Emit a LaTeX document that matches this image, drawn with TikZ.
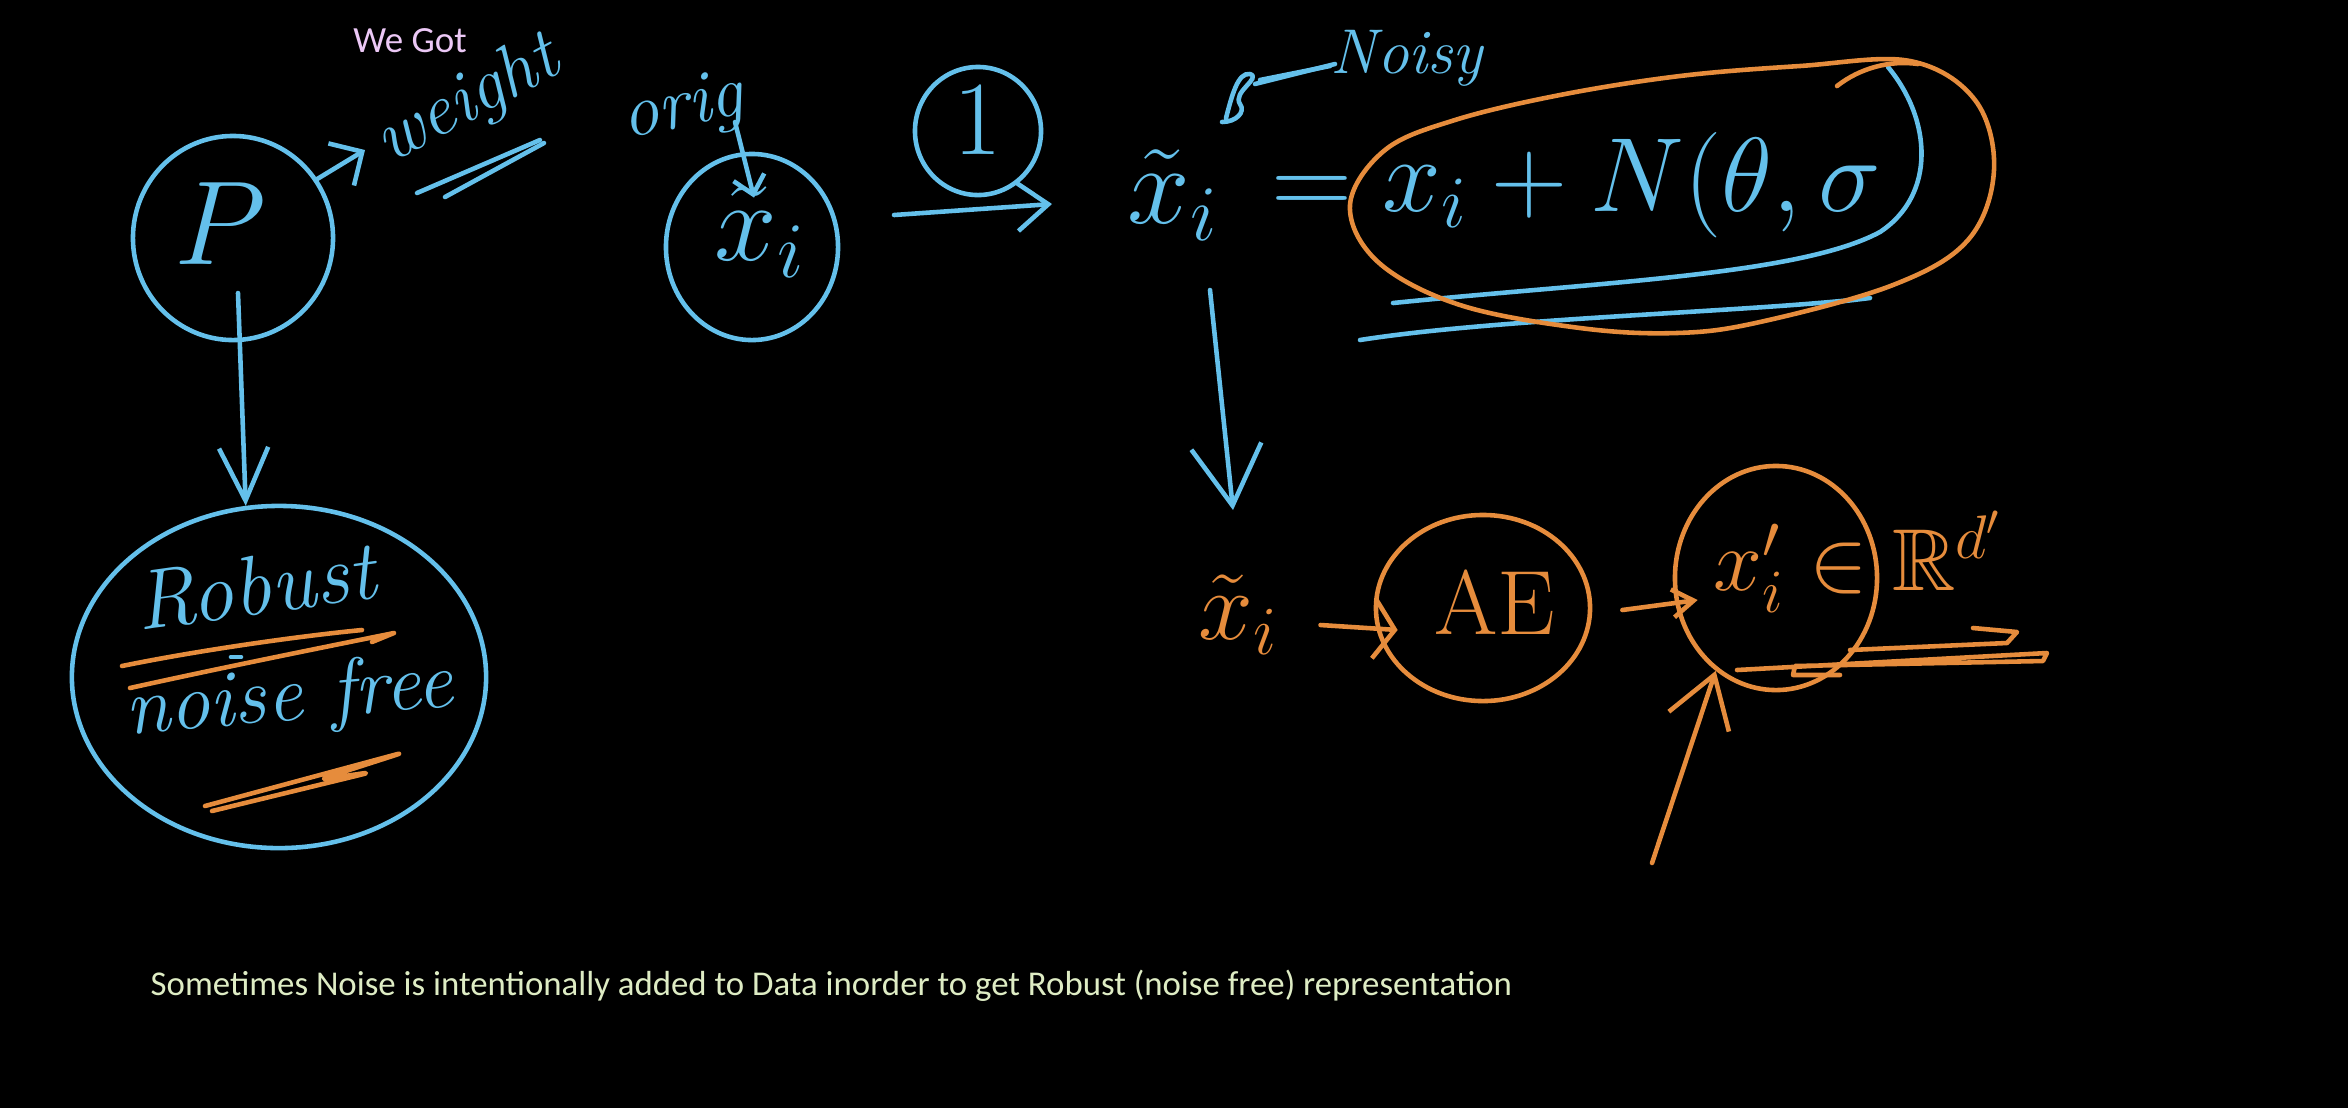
\RequirePackage{fix-cm}
\documentclass[tikz,border=0pt]{standalone}
\usepackage{amssymb}
\usepackage{fontspec}
\newfontfamily\capfont{Carlito}
\usetikzlibrary{shapes.geometric,arrows.meta,calc}
\definecolor{penblue}{RGB}{100,192,235}
\definecolor{penorange}{RGB}{230,140,60}
\definecolor{wegot}{RGB}{236,200,246}
\definecolor{captext}{RGB}{222,236,196}
\begin{document}
\begin{tikzpicture}[x=0.01cm,y=-0.01cm,
  pen/.style={line width=1.3pt,line cap=round,line join=round},
  bpen/.style={pen,draw=penblue},
  opn/.style={pen,draw=penorange},
  circ/.style={ellipse,draw,inner sep=0pt,line width=1.3pt},
  btxt/.style={text=penblue,inner sep=0pt},
  otxt/.style={text=penorange,inner sep=0pt},
  fs/.style={font=\fontsize{#1}{#1}\selectfont}]
\fill[black] (0,0) rectangle (2348,1108);
\useasboundingbox (0,0) rectangle (2348,1108);

% ---------- top row (blue) ----------
\node[text=wegot,font=\capfont\fontsize{10.5}{12}\selectfont] (wegot) at (410,41) {We Got};

\node[circ,draw=penblue,minimum width=2cm,minimum height=2.04cm] (P) at (233,238) {};
\node[btxt,fs=34] (Pl) at (220,224) {$P$};

\node[btxt,fs=21,rotate=28] (weight) at (468,102) {\itshape weight};
\coordinate (wtip) at (365,150);
\draw[bpen,-{Straight Barb[length=7pt,width=14pt]}] (P.35) -- (wtip);
\draw[bpen] (417,193) -- (540,140);
\draw[bpen] (445,197) -- (544,143);

\node[btxt,fs=21,rotate=12] (orig) at (683,110) {\itshape orig};
\node[circ,draw=penblue,minimum width=1.72cm,minimum height=1.86cm] (xo) at (752,247) {};
\node[btxt,fs=32] (xol) at (760,232) {$\tilde{x}_i$};
\coordinate (og) at (735,122);
\draw[bpen,-{Straight Barb[length=5pt,width=9pt]}] (og) -- ($(xo.north)+(2,46)$);

\node[circ,draw=penblue,minimum width=1.26cm,minimum height=1.28cm] (one) at (978,131) {};
\node[btxt,fs=30] (onel) at (978,120) {1};
\coordinate (a1s) at (894,215);
\coordinate (a1e) at (1052,204);
\draw[bpen,-{Straight Barb[length=9pt,width=14pt]}] (a1s) -- (a1e);

% noisy x
\node[btxt,fs=32] (xt) at (1173,195) {$\tilde{x}_i$};
\draw[bpen] (1226,118) .. controls (1232,95) and (1238,72) .. (1250,74)
            .. controls (1262,78) and (1232,92) .. (1240,104)
            .. controls (1246,112) and (1236,122) .. (1222,122);
\coordinate (nl) at (1335,64);
\node[btxt,fs=18] (noisy) at (1407,58) {\itshape Noisy};
\draw[bpen] (1255,84) -- (nl);
\draw[bpen] (1260,80) -- (1330,66);
\node[btxt,fs=32] (eq) at (1312,196) {$=$};
\node[btxt,fs=30] (rhs) at (1632,185) {$x_i + N(\theta,\sigma$};

% closing paren + underlines
\draw[bpen] (1888,67) .. controls (1932,120) and (1936,195) .. (1880,232)
            .. controls (1800,275) and (1600,282) .. (1393,303);
\draw[bpen] (1360,340) .. controls (1500,318) and (1750,312) .. (1870,298)
            -- (1828,303);

% orange loop round the noise term
\draw[opn] plot[smooth cycle,tension=0.6] coordinates {
  (1350,205) (1385,150) (1455,120) (1560,95) (1680,76) (1800,66)
  (1910,61) (1975,100) (1994,170) (1968,240) (1893,285) (1760,322)
  (1677,333) (1580,328) (1460,305) (1378,262)};
\draw[opn] (1837,86) .. controls (1860,68) and (1890,60) .. (1918,64);

% down arrow
\coordinate (d1) at (1210,290);
\coordinate (d2) at (1233,510);
\draw[bpen,-{Straight Barb[length=17pt,width=20pt]}] (d1) -- (d2);

% ---------- robust (left) ----------
\node[circ,draw=penblue,minimum width=4.14cm,minimum height=3.42cm] (rob) at (279,677) {};
\draw[bpen,-{Straight Barb[length=15pt,width=14pt]}] ($(P.center)+(5,55)$) -- (rob.101);
\node[btxt,fs=24,rotate=8] (robust) at (255,586) {\itshape Robust};
\node[btxt,fs=23,rotate=5] (nfree) at (289,700) {\itshape noise free};
\draw[opn] (122,666) .. controls (200,650) and (300,636) .. (362,630);
\draw[opn] (130,688) .. controls (220,668) and (320,648) .. (394,633) -- (372,642);
\draw[bpen] (231,657) -- (241,657);
\draw[opn,rounded corners=3pt] (205,806) -- (405,752) -- (318,780) -- (372,772) -- (212,811);

% ---------- lower row (orange) ----------
\node[otxt,fs=28] (xtl) at (1238,615) {$\tilde{x}_i$};
\node[circ,draw=penorange,minimum width=2.14cm,minimum height=1.86cm] (ae) at (1483,608) {};
\node[otxt,fs=26] (ael) at (1495,602) {AE};
\draw[opn,-{Straight Barb[length=6pt,width=17pt]}] ($(xtl.east)+(42,10)$) -- ($(ae.west)+(24,22)$);

\node[circ,draw=penorange,minimum width=2.02cm,minimum height=2.24cm] (xp) at (1776,578) {};
\node[otxt,fs=25] (xpl) at (1858,562) {$x_i' \in \mathbb{R}^{d'}$};
\draw[opn,-{Straight Barb[length=6pt,width=8pt]}] ($(ae.east)+(30,2)$) -- ($(xp.west)+(25,22)$);
\draw[opn] (1973,628) -- (2017,632) -- (2007,643) -- (1850,650);
\draw[opn] (1737,670) -- (2047,653) -- (2043,661) -- (1795,666) -- (1793,675) -- (1840,675);
\coordinate (up) at (1652,863);
\draw[opn,-{Straight Barb[length=14pt,width=18pt]}] (up) -- (xp.237);

% ---------- caption ----------
\node[anchor=west,text=captext,font=\capfont\fontsize{9.9}{12}\selectfont,inner sep=0pt] (cap) at (150,986)
  {Sometimes Noise is intentionally added to Data inorder to get Robust (noise free) representation};
\end{tikzpicture}
\end{document}
